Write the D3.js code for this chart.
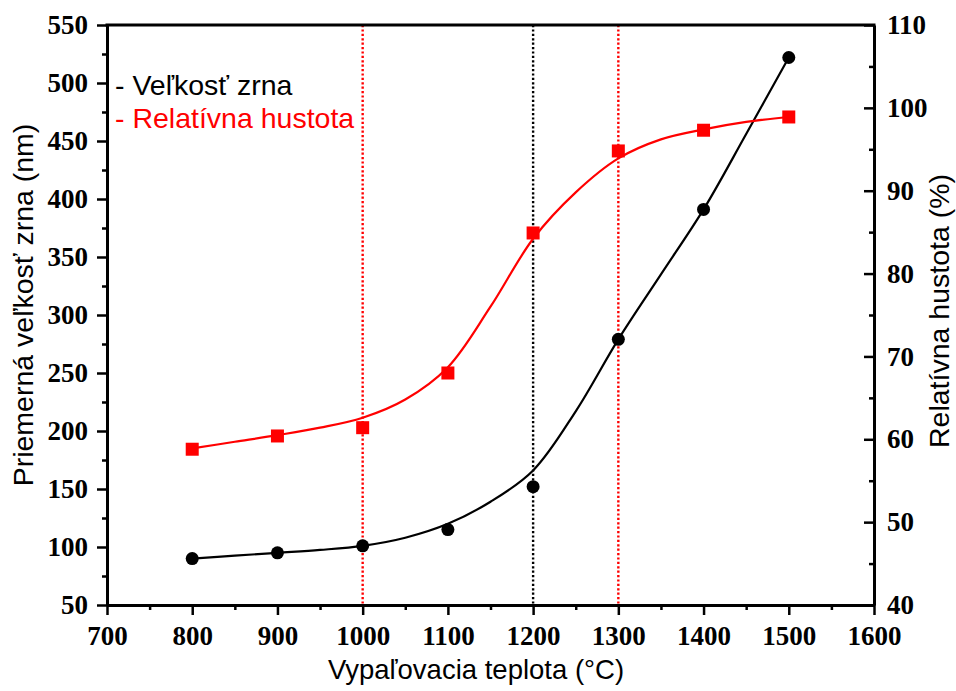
<!DOCTYPE html>
<html><head><meta charset="utf-8">
<script src="https://cdn.jsdelivr.net/npm/d3@7"></script>
<style>body{margin:0;background:#fff}svg{display:block}</style>
</head><body>
<script>
// ---- data ----
const temps = [800, 900, 1000, 1100, 1200, 1300, 1400, 1500];
const grainSize = [90, 95, 101, 115, 152, 279, 391, 522];          // nm (left axis)
const density = [58.8, 60.4, 61.4, 68.0, 84.9, 94.8, 97.3, 98.9];   // % (right axis)
// fitted curves
const fitTemps = [800, 850, 900, 950, 1000, 1050, 1100, 1150, 1200, 1250, 1300, 1350, 1400, 1450, 1500];
const grainFit = [90, 92.5, 95, 97.5, 101, 108, 120, 139, 166, 217, 279, 335, 391, 456, 522];
const densityFit = [58.9, 59.7, 60.5, 61.4, 62.6, 64.8, 68.7, 76.0, 84.2, 89.8, 93.9, 96.2, 97.4, 98.3, 98.9];
const refLinesRed = [1000, 1300];
const refLinesBlack = [1200];
const xTicks = [700, 800, 900, 1000, 1100, 1200, 1300, 1400, 1500, 1600];
const yLeftTicks = [50, 100, 150, 200, 250, 300, 350, 400, 450, 500, 550];
const yRightTicks = [40, 50, 60, 70, 80, 90, 100, 110];
const legendLabels = ["- Veľkosť zrna", "- Relatívna hustota"];

const W = 956, H = 691;
const L = 107, R = 874, T = 25, B = 605;
const svg = d3.select("body").append("svg").attr("width", W).attr("height", H);

const x = d3.scaleLinear().domain([700, 1600]).range([L, R]);
const yL = d3.scaleLinear().domain([50, 550]).range([B, T]);
const yR = d3.scaleLinear().domain([40, 110]).range([B, T]);

const red = "#ff0000";
const tickFont = "'Liberation Serif','Times New Roman',serif";
const sansFont = "'Liberation Sans',Arial,sans-serif";

// reference dotted lines
const refs = svg.append("g");
refLinesRed.forEach(v => refs.append("line").attr("x1", x(v)).attr("x2", x(v)).attr("y1", T).attr("y2", B)
  .attr("stroke", red).attr("stroke-width", 2.4).attr("stroke-dasharray", "2.2,2.2"));
refLinesBlack.forEach(v => refs.append("line").attr("x1", x(v)).attr("x2", x(v)).attr("y1", T).attr("y2", B)
  .attr("stroke", "#000").attr("stroke-width", 2.4).attr("stroke-dasharray", "2.2,2.2"));

// curves
const line = (ys) => d3.line().x(d => x(d[0])).y(d => ys(d[1])).curve(d3.curveCatmullRom.alpha(0.5));
svg.append("path").datum(d3.zip(fitTemps, grainFit)).attr("d", line(yL))
  .attr("fill", "none").attr("stroke", "#000").attr("stroke-width", 2.2);
svg.append("path").datum(d3.zip(fitTemps, densityFit)).attr("d", line(yR))
  .attr("fill", "none").attr("stroke", red).attr("stroke-width", 2.2);

// markers
svg.append("g").selectAll("circle").data(d3.zip(temps, grainSize)).join("circle")
  .attr("cx", d => x(d[0])).attr("cy", d => yL(d[1])).attr("r", 6.5).attr("fill", "#000");
const s = 13;
svg.append("g").selectAll("rect").data(d3.zip(temps, density)).join("rect")
  .attr("x", d => x(d[0]) - s / 2).attr("y", d => yR(d[1]) - s / 2).attr("width", s).attr("height", s).attr("fill", red);

// axes
function styleAxis(g) {
  g.select(".domain").attr("stroke-width", 3);
  g.selectAll(".tick line").attr("stroke-width", 2.5);
  g.selectAll(".tick text").attr("font-family", tickFont).attr("font-weight", "bold").attr("font-size", 27).attr("fill", "#000");
}
const minor = (arr) => arr.slice(0, -1).map((v, i) => (v + arr[i + 1]) / 2);

const gx = svg.append("g").attr("transform", `translate(0,${B})`)
  .call(d3.axisBottom(x).tickValues(xTicks).tickFormat(d3.format("d")).tickSize(10).tickSizeOuter(0).tickPadding(11));
styleAxis(gx);
svg.append("g").attr("transform", `translate(0,${B})`).call(d3.axisBottom(x).tickValues(minor(xTicks)).tickFormat("").tickSize(5))
  .call(g => { g.select(".domain").remove(); g.selectAll("line").attr("stroke-width", 2.5); });

const gl = svg.append("g").attr("transform", `translate(${L},0)`)
  .call(d3.axisLeft(yL).tickValues(yLeftTicks).tickFormat(d3.format("d")).tickSize(10).tickSizeOuter(0).tickPadding(9));
styleAxis(gl);
svg.append("g").attr("transform", `translate(${L},0)`).call(d3.axisLeft(yL).tickValues(minor(yLeftTicks)).tickFormat("").tickSize(5))
  .call(g => { g.select(".domain").remove(); g.selectAll("line").attr("stroke-width", 2.5); });

const gr = svg.append("g").attr("transform", `translate(${R},0)`)
  .call(d3.axisRight(yR).tickValues(yRightTicks).tickFormat(d3.format("d")).tickSize(-10).tickSizeOuter(0).tickPadding(13));
styleAxis(gr);
svg.append("g").attr("transform", `translate(${R},0)`).call(d3.axisRight(yR).tickValues(minor(yRightTicks)).tickFormat("").tickSize(-5))
  .call(g => { g.select(".domain").remove(); g.selectAll("line").attr("stroke-width", 2.5); });

// top border
svg.append("line").attr("x1", L - 1.5).attr("x2", R + 1.5).attr("y1", T).attr("y2", T).attr("stroke", "#000").attr("stroke-width", 3);

// axis titles
svg.append("text").attr("x", 476).attr("y", 679).attr("text-anchor", "middle")
  .attr("font-family", sansFont).attr("font-size", 27.5).text("Vypaľovacia teplota (°C)");
svg.append("text").attr("transform", `translate(33,305) rotate(-90)`).attr("text-anchor", "middle")
  .attr("font-family", sansFont).attr("font-size", 28.5).text("Priemerná veľkosť zrna (nm)");
svg.append("text").attr("transform", `translate(949,311) rotate(-90)`).attr("text-anchor", "middle")
  .attr("font-family", sansFont).attr("font-size", 28.5).text("Relatívna hustota (%)");

// legend text
svg.append("text").attr("x", 115).attr("y", 95).attr("font-family", sansFont).attr("font-size", 28.5)
  .attr("fill", "#000").text(legendLabels[0]);
svg.append("text").attr("x", 115).attr("y", 128).attr("font-family", sansFont).attr("font-size", 28.5)
  .attr("fill", red).text(legendLabels[1]);
</script>
</body></html>
